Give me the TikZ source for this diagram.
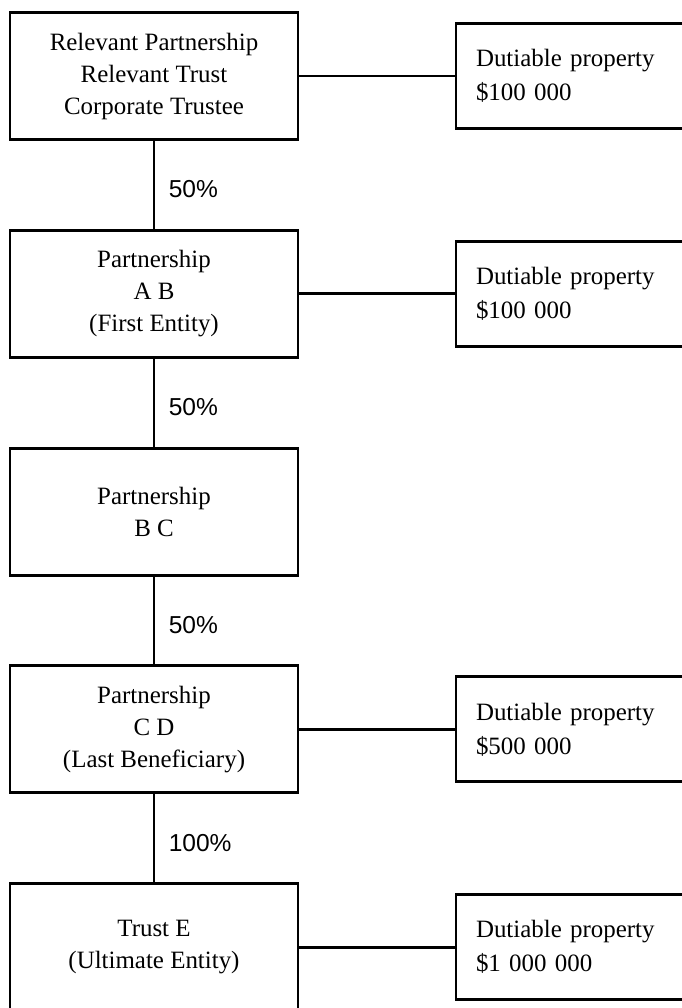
\documentclass[tikz,border=0pt]{standalone}
\usepackage{fontspec}
\setmainfont{Liberation Serif}
\newfontfamily\pctfont{Liberation Sans}
\usetikzlibrary{positioning}
\tikzset{
  entity/.style={draw, minimum width=216pt, minimum height=95.25pt, align=center,
    font=\fontsize{18.7}{24}\selectfont},
  property/.style={draw, minimum width=180pt, minimum height=78.75pt, inner xsep=15pt,
    text width=150pt, align=left, font=\fontsize{18.7}{25.5}\selectfont},
  share/.style={font=\pctfont\fontsize{18.4}{22}\selectfont, inner sep=0pt, yshift=-3.4pt}
}

\begin{document}
\begin{tikzpicture}[node distance=65.9pt, line width=2.2pt]
  \useasboundingbox (-115.5pt,57pt) rectangle (396pt,-699pt);

  \node [entity] (trustee) at (0,0) {Relevant Partnership\\Relevant Trust\\Corporate Trustee};
  \node [entity] (first) [below = of trustee] {Partnership\\A B\\(First Entity)};
  \node [entity] (partbc) [below = of first] {Partnership\\B C};
  \node [entity] (last) [below = of partbc] {Partnership\\C D\\(Last Beneficiary)};
  \node [entity] (ultimate) [below = of last] {Trust E\\(Ultimate Entity)};

  \begin{scope}[node distance=116.3pt]
    \node [property] (prop1) [right = of trustee] {Dutiable property\\\$100 000};
    \node [property] (prop2) [right = of first] {Dutiable property\\\$100 000};
    \node [property] (prop4) [right = of last] {Dutiable property\\\$500 000};
    \node [property] (prop5) [right = of ultimate] {Dutiable property\\\$1 000 000};
  \end{scope}

  \path (trustee) edge node [share, right=10pt] {50\%} (first)
        (first) edge node [share, right=10pt] {50\%} (partbc)
        (partbc) edge node [share, right=10pt] {50\%} (last)
        (last) edge node [share, right=10pt] {100\%} (ultimate);

  \path (trustee) edge (prop1)
        (first) edge (prop2)
        (last) edge (prop4)
        (ultimate) edge (prop5);
\end{tikzpicture}
\end{document}
